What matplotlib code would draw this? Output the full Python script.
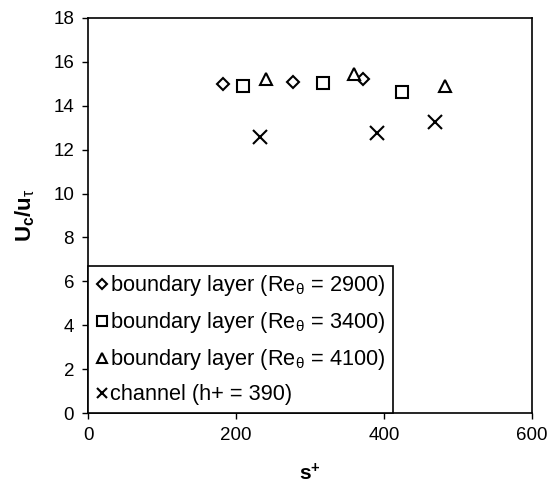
import matplotlib
matplotlib.use("Agg")
import matplotlib.pyplot as plt

plt.rcParams['font.family'] = ['Liberation Sans', 'DejaVu Sans']
plt.rcParams['mathtext.fontset'] = 'custom'
plt.rcParams['mathtext.rm'] = 'Liberation Sans'
plt.rcParams['mathtext.it'] = 'Liberation Sans:italic'
plt.rcParams['mathtext.bf'] = 'Liberation Sans:bold'

bl2900_x = [182, 277, 371]
bl2900_y = [15.0, 15.1, 15.2]
bl3400_x = [209, 317, 425]
bl3400_y = [14.9, 15.05, 14.65]
bl4100_x = [240, 360, 482]
bl4100_y = [15.2, 15.45, 14.9]
ch_x = [232, 390, 469]
ch_y = [12.6, 12.75, 13.25]

labels = ["boundary layer (Re$_{\\mathrm{θ}}$ = 2900)",
          "boundary layer (Re$_{\\mathrm{θ}}$ = 3400)",
          "boundary layer (Re$_{\\mathrm{θ}}$ = 4100)",
          "channel (h+ = 390)"]

fig = plt.figure(figsize=(5.57, 5.0), dpi=100)
ax = fig.add_axes([0.158, 0.174, 0.797, 0.79])

kw = dict(linestyle='none', markerfacecolor='white', markeredgecolor='black', markeredgewidth=1.5)
ax.plot(bl2900_x, bl2900_y, marker='D', markersize=6.5, label=labels[0], **kw)
ax.plot(bl3400_x, bl3400_y, marker='s', markersize=9, label=labels[1], **kw)
ax.plot(bl4100_x, bl4100_y, marker='^', markersize=9, label=labels[2], **kw)
ax.plot(ch_x, ch_y, marker='x', markersize=10, linestyle='none', color='black',
        markeredgewidth=1.5, label=labels[3])

ax.set_xlim(0, 600)
ax.set_ylim(0, 18)
ax.set_xticks([0, 200, 400, 600])
ax.set_yticks(range(0, 19, 2))
ax.tick_params(direction='out', length=4, width=1, labelsize=13.5, pad=6)
for s in ax.spines.values():
    s.set_linewidth(1.2)

ax.set_xlabel("s$^{\\mathbf{+}}$", fontsize=15, fontweight='bold', labelpad=14)
ax.set_ylabel("U$_{\\mathbf{c}}$/u$_{\\mathrm{τ}}$", fontsize=16, fontweight='bold', labelpad=12)

leg = ax.legend(loc='lower left', bbox_to_anchor=(0, 0), borderaxespad=0,
                fontsize=15.7, handlelength=0.55, handletextpad=0.1, markerscale=0.75,
                fancybox=False, edgecolor='black', framealpha=1, labelspacing=0.55,
                borderpad=0.35)
leg.get_frame().set_linewidth(1.2)

fig.savefig("out.png", dpi=100)
